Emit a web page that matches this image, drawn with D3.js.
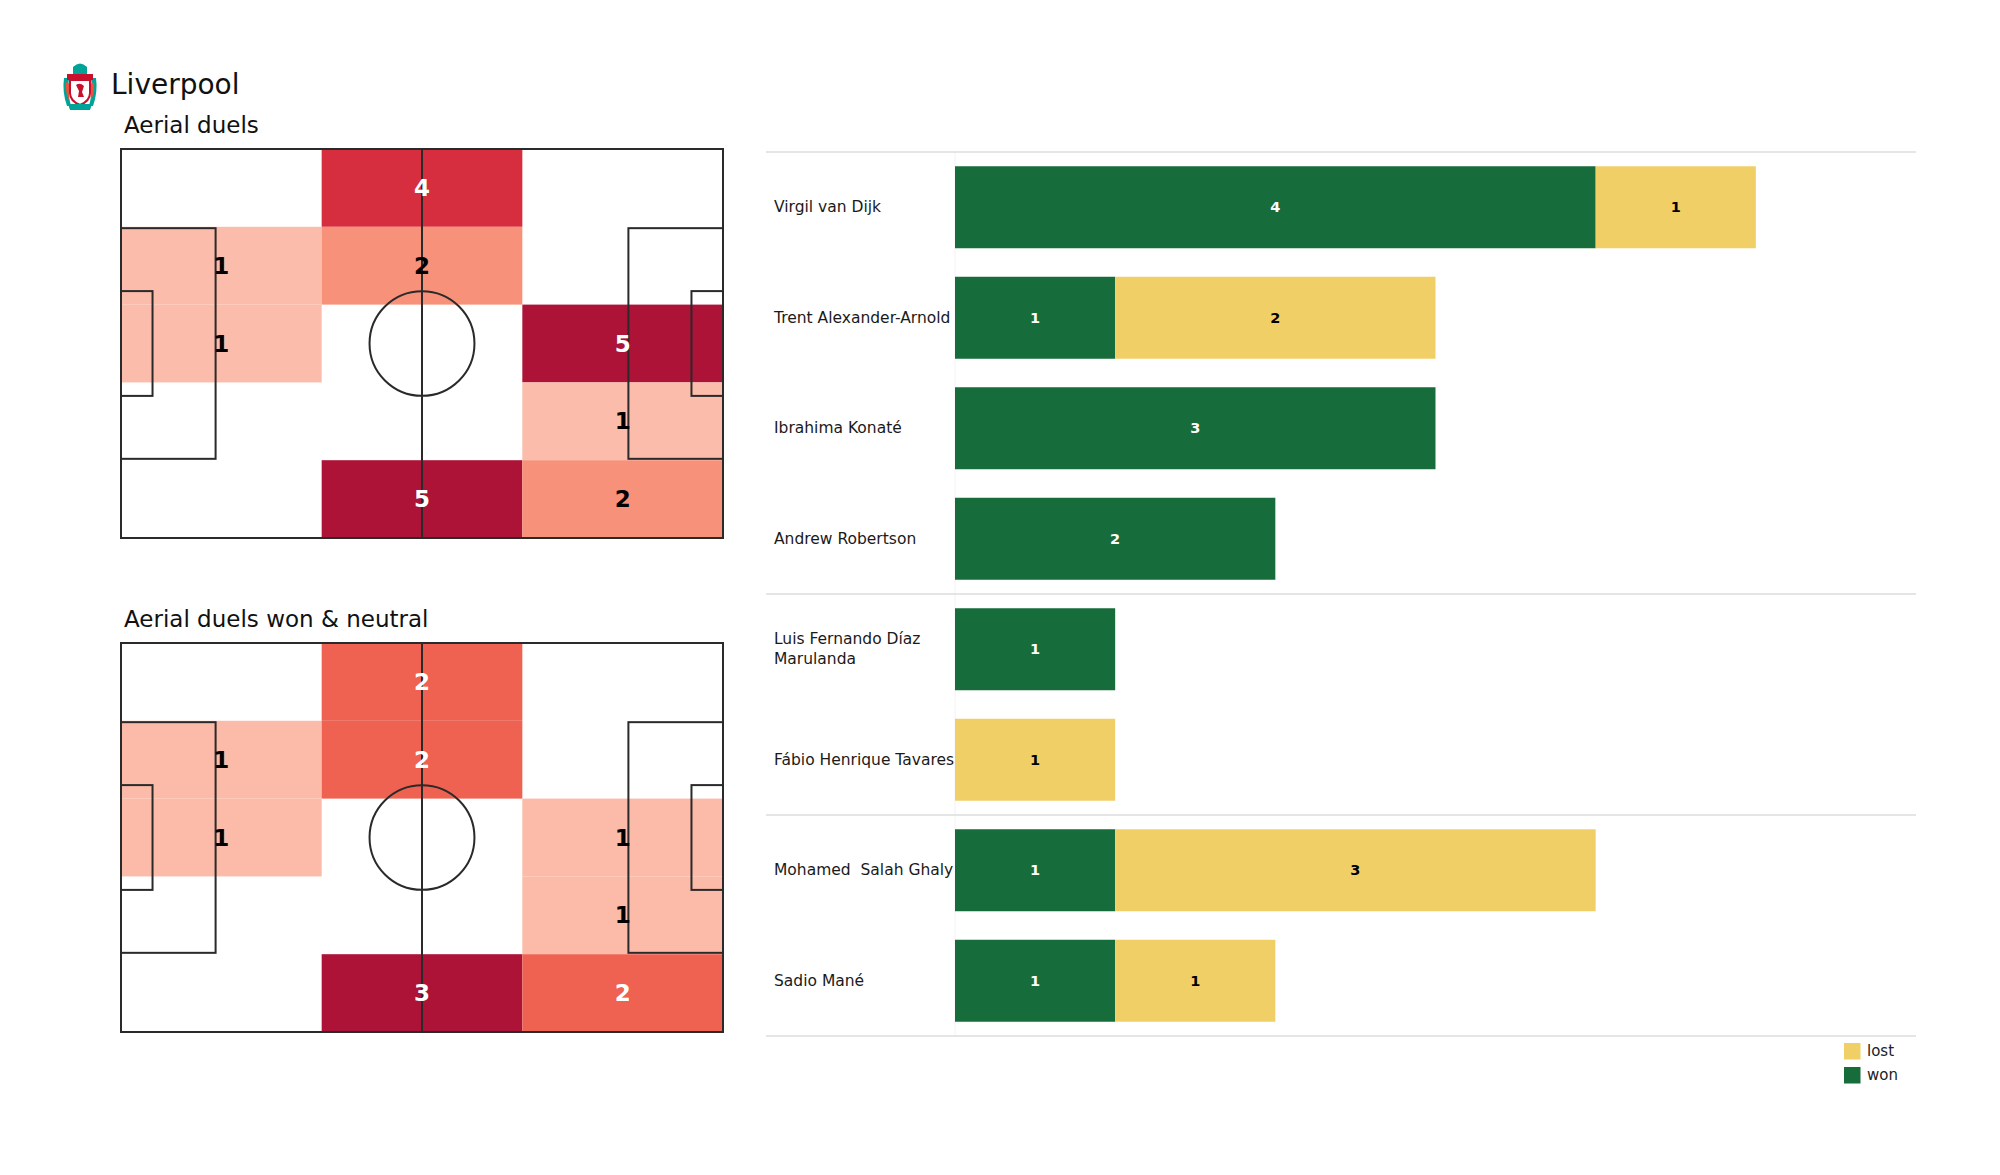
<!DOCTYPE html>
<html><head><meta charset="utf-8">
<script src="https://cdn.jsdelivr.net/npm/d3@7"></script>
<style>
body{margin:0;background:#fff}
svg{display:block}
text{font-family:"DejaVu Sans",sans-serif}
</style>
</head><body>
<svg id="c" width="2000" height="1175"></svg>
<script>
// ---------- data ----------
const teamName = "Liverpool";
const heatTitles = ["Aerial duels", "Aerial duels won & neutral"];
// rows top -> bottom, columns left -> right (3 x 5 zones)
const heatAll = [[0,4,0],[1,2,0],[1,0,5],[0,0,1],[0,5,2]];
const heatWon = [[0,2,0],[1,2,0],[1,0,1],[0,0,1],[0,3,2]];
const players = ["Virgil van Dijk","Trent Alexander-Arnold","Ibrahima Konaté","Andrew Robertson",
  "Luis Fernando Díaz Marulanda","Fábio Henrique Tavares","Mohamed  Salah Ghaly","Sadio Mané"];
const wonVals  = [4,1,3,2,1,0,1,1];
const lostVals = [1,2,0,0,0,1,3,1];
const groupEnds = [4,6,8];
const seriesNames = ["lost","won"];
const seriesColors = {lost:"#f0cf67", won:"#166c3a"};
const heatStops = [0.2,0.34,0.4,0.67,0.8,1];
const heatStopColors = ["#fcbcab","#fcbaa8","#f8917a","#ef6150","#d62e3e","#ad1337"];

const svg = d3.select("#c");

// ---------- header ----------
const logo = svg.append("g");
const teal = "#00a398", red = "#c8102e";
logo.append("path").attr("d","M73,74 L73,67 Q80,60 87,67 L87,74 Z").attr("fill",teal);
logo.append("path").attr("d","M64,78 Q62,92 67,106 L71,106 Q67,92 69,78 Z").attr("fill",teal);
logo.append("path").attr("d","M96,78 Q98,92 93,106 L89,106 Q93,92 91,78 Z").attr("fill",teal);
logo.append("path").attr("d","M66,82 Q65,92 69,100 L70,84 Z").attr("fill","#e8553c");
logo.append("path").attr("d","M94,82 Q95,92 91,100 L90,84 Z").attr("fill","#e8553c");
logo.append("rect").attr("x",67).attr("y",74).attr("width",26).attr("height",6).attr("fill",red);
logo.append("path").attr("d","M70,80 L90,80 L90,93 Q90,101 80,105 Q70,101 70,93 Z")
  .attr("fill","#fff").attr("stroke",red).attr("stroke-width",2);
logo.append("path").attr("d","M76,85 Q80,82 84,86 L82,92 L84,97 L78,97 L79,91 Z").attr("fill",red);
logo.append("path").attr("d","M68,104 L92,104 L90,110 L70,110 Z").attr("fill",teal);

svg.append("text").attr("x",111).attr("y",94).attr("font-size",28).attr("fill","#111").text(teamName);

// ---------- pitches ----------
function drawPitch(top, title, data) {
  const x = d3.scaleLinear().domain([0,105]).range([121,723]);
  const y = d3.scaleLinear().domain([0,68]).range([top, top+389]);
  svg.append("text").attr("x",124).attr("y",top-16).attr("font-size",23).attr("fill","#111").text(title);
  const g = svg.append("g");
  const max = d3.max(data.flat());
  const color = d3.scaleLinear().domain(heatStops).range(heatStopColors).clamp(true);
  const cells = [];
  data.forEach((row,r)=>row.forEach((v,c)=>cells.push({r,c,v})));
  const nz = cells.filter(d=>d.v>0);
  const cw = 105/3, ch = 68/5;
  g.selectAll("rect.cell").data(nz).join("rect")
    .attr("x",d=>x(d.c*cw)).attr("y",d=>y(d.r*ch))
    .attr("width",x(cw)-x(0)).attr("height",y(ch)-y(0))
    .attr("fill",d=>color(d.v/max));
  const lc = "#2a2a2a", lw = 2;
  const line = (x1,y1,x2,y2)=>g.append("line").attr("x1",x(x1)).attr("y1",y(y1)).attr("x2",x(x2)).attr("y2",y(y2))
      .attr("stroke",lc).attr("stroke-width",lw);
  const box = (x0,y0,w,h)=>g.append("rect").attr("x",x(x0)).attr("y",y(y0)).attr("width",x(w)-x(0)).attr("height",y(h)-y(0))
      .attr("fill","none").attr("stroke",lc).attr("stroke-width",lw);
  box(0,0,105,68);
  line(52.5,0,52.5,68);
  g.append("ellipse").attr("cx",x(52.5)).attr("cy",y(34)).attr("rx",x(9.15)-x(0)).attr("ry",y(9.15)-y(0))
    .attr("fill","none").attr("stroke",lc).attr("stroke-width",lw);
  box(0,13.84,16.5,40.32);
  box(105-16.5,13.84,16.5,40.32);
  box(0,24.84,5.5,18.32);
  box(105-5.5,24.84,5.5,18.32);
  g.selectAll("text.val").data(nz).join("text")
    .attr("x",d=>x((d.c+0.5)*cw)).attr("y",d=>y((d.r+0.5)*ch))
    .attr("text-anchor","middle").attr("dominant-baseline","central")
    .attr("font-size",23).attr("font-weight","bold")
    .attr("fill",d=>d.v/max>0.5?"#fff":"#000")
    .text(d=>d.v);
}
drawPitch(149, heatTitles[0], heatAll);
drawPitch(643, heatTitles[1], heatWon);

// ---------- bars ----------
const xb = d3.scaleLinear().domain([0,6]).range([955,1916]);
const yb = d3.scaleBand().domain(players).range([152,1036]).paddingInner(0.258).paddingOuter(0.129);
const step = yb.step();
const gb = svg.append("g");
gb.append("line").attr("x1",955).attr("x2",955).attr("y1",152).attr("y2",1036).attr("stroke","#f2f2f2").attr("stroke-width",1);
const sepY = [0,...groupEnds].map(k=>yb.range()[0]+k*step);
gb.selectAll("line.sep").data(sepY).join("line")
  .attr("x1",766).attr("x2",1916).attr("y1",d=>d).attr("y2",d=>d)
  .attr("stroke","#dcdcdc").attr("stroke-width",1.5);

const rows = players.map((p,i)=>({p, won:wonVals[i], lost:lostVals[i]}));
const stack = d3.stack().keys(["won","lost"])(rows);
stack.forEach(layer=>{
  const key = layer.key;
  gb.selectAll("rect."+key).data(layer.filter(d=>d[1]-d[0]>0)).join("rect")
    .attr("x",d=>xb(d[0])).attr("y",d=>yb(d.data.p))
    .attr("width",d=>xb(d[1])-xb(d[0])).attr("height",yb.bandwidth())
    .attr("fill",seriesColors[key]);
  gb.selectAll("text."+key).data(layer.filter(d=>d[1]-d[0]>0)).join("text")
    .attr("x",d=>xb((d[0]+d[1])/2)).attr("y",d=>yb(d.data.p)+yb.bandwidth()/2)
    .attr("text-anchor","middle").attr("dominant-baseline","central")
    .attr("font-size",14.5).attr("font-weight","bold")
    .attr("fill",key==="won"?"#fff":"#000")
    .text(d=>d[1]-d[0]);
});

// player labels with wrapping
players.forEach(p=>{
  const cy = yb(p)+yb.bandwidth()/2;
  const t = gb.append("text").attr("x",774).attr("font-size",15.5).attr("fill","#1a1a1a").style("white-space","pre");
  const words = p.split(" ");
  const lines = [];
  let cur = "";
  const probe = gb.append("text").attr("font-size",15.5).style("white-space","pre").attr("x",-1000);
  words.forEach(w=>{
    const test = cur===""?w:cur+" "+w;
    probe.text(test);
    if (probe.node().getComputedTextLength()>190 && cur!=="") { lines.push(cur); cur = w; }
    else cur = test;
  });
  lines.push(cur);
  probe.remove();
  const lh = 20;
  lines.forEach((l,i)=>{
    t.append("tspan").attr("x",774).attr("y",cy-(lines.length-1)*lh/2+i*lh)
      .attr("dominant-baseline","central").text(l);
  });
});

// legend
const lg = svg.append("g");
seriesNames.forEach((s,i)=>{
  lg.append("rect").attr("x",1844).attr("y",1043+i*24).attr("width",16.5).attr("height",16.5).attr("fill",seriesColors[s]);
  lg.append("text").attr("x",1867).attr("y",1051+i*24).attr("dominant-baseline","central")
    .attr("font-size",15).attr("fill","#222").text(s);
});
</script>
</body></html>
